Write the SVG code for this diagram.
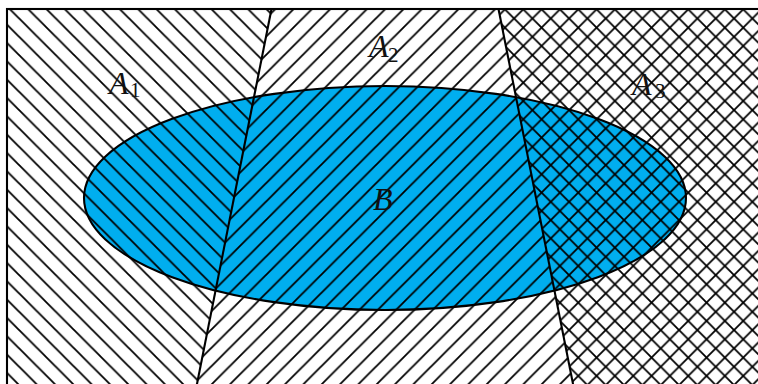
<svg xmlns="http://www.w3.org/2000/svg" width="758" height="384" viewBox="0 0 758 384">
  <style>
    .hatch { stroke: #000; stroke-width: 1.8; fill: none; }
    .edge { stroke: #000; stroke-width: 2.1; fill: none; }
    .lbl { font-family: "Liberation Serif", "Times New Roman", serif; font-style: italic; fill: #111; }
    .big { font-size: 32px; }
    .sub { font-size: 21px; font-style: normal; }
  </style>
  <defs>
    <pattern id="nw" patternUnits="userSpaceOnUse" x="0.7" y="0" width="18.33" height="18.33">
      <path class="hatch" d="M-2,-2 L20.33,20.33 M-2,16.33 L2,20.33 M16.33,-2 L20.33,2"/>
    </pattern>
    <pattern id="ne" patternUnits="userSpaceOnUse" x="9.4" y="0" width="18.33" height="18.33">
      <path class="hatch" d="M-2,20.33 L20.33,-2 M-2,2 L2,-2 M16.33,20.33 L20.33,16.33"/>
    </pattern>
    <pattern id="ne3" patternUnits="userSpaceOnUse" x="1.0" y="0" width="18.33" height="18.33">
      <path class="hatch" d="M-2,20.33 L20.33,-2 M-2,2 L2,-2 M16.33,20.33 L20.33,16.33"/>
    </pattern>
  </defs>
  <rect x="0" y="0" width="758" height="384" fill="#fff"/>
  <rect x="7" y="9" width="800" height="400" fill="#fff"/>
  <ellipse cx="385" cy="198" rx="301" ry="112" fill="#00AEEF"/>
  <g id="A1">
    <polygon points="7,9 271.5,9 193.8,400 7,400" fill="url(#nw)"/>
    <text class="lbl big" x="109" y="94">A<tspan class="sub" x="130" y="97">1</tspan></text>
  </g>
  <g id="A2">
    <polygon points="271.5,9 498.5,9 576.2,400 193.8,400" fill="url(#ne)"/>
    <text class="lbl big" x="369" y="56.5">A<tspan class="sub" x="388" y="61.5">2</tspan></text>
  </g>
  <g id="A3">
    <polygon points="498.5,9 770,9 770,400 576.2,400" fill="url(#nw)"/>
    <polygon points="498.5,9 770,9 770,400 576.2,400" fill="url(#ne3)"/>
    <text class="lbl big" x="632" y="95">A<tspan class="sub" x="655" y="98">3</tspan></text>
  </g>
  <g id="B">
    <ellipse class="edge" cx="385" cy="198" rx="301" ry="112"/>
    <text class="lbl big" x="373" y="210">B</text>
  </g>
  <g id="connectors">
    <line class="edge" x1="271.5" y1="9" x2="193.8" y2="400"/>
    <line class="edge" x1="498.5" y1="9" x2="576.2" y2="400"/>
  </g>
  <rect class="edge" x="7" y="9" width="800" height="400"/>
</svg>
